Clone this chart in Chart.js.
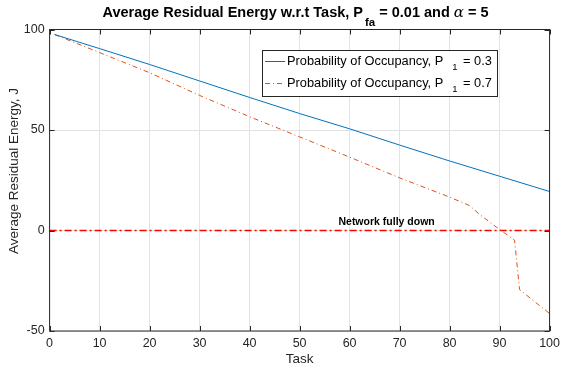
<!DOCTYPE html>
<html>
<head>
<meta charset="utf-8">
<script src="https://cdn.jsdelivr.net/npm/chart.js@4/dist/chart.umd.min.js"></script>
<style>
  html, body { margin: 0; padding: 0; background: #fff; }
  #caixa { width: 565px; height: 369px; }
</style>
</head>
<body>
<div id="caixa"><canvas id="grafico" width="565" height="369"></canvas></div>
<script>
// Dados
const tarefasP03 = [1, 10, 20, 30, 40, 50, 60, 70, 80, 90, 100];
const energiaP03 = [97.5, 90.5, 82.6, 74.4, 66.2, 58.2, 50.6, 42.5, 34.6, 27.0, 19.4];

const tarefasP07 = [1, 10, 20, 30, 40, 50, 60, 70, 80, 84, 86, 90, 93, 94, 100];
const energiaP07 = [97.5, 88.5, 78.5, 67.2, 56.6, 46.6, 36.5, 26.2, 16.6, 12.4, 8.0, 0.5, -4.8, -29.4, -41.3];

const tarefasLimite = [0, 100];
const energiaLimite = [0, 0];

const ticksX = [0, 10, 20, 30, 40, 50, 60, 70, 80, 90, 100];
const ticksY = [-50, 0, 50, 100];

const rotulos = ["Probability of Occupancy, P", "Probability of Occupancy, P"];
const valoresP = ["0.3", "0.7"];

const corTexto = "#262626";
const fonte = "'Liberation Sans', Arial, Helvetica, sans-serif";

function pares(xs, ys) {
  return xs.map((x, i) => ({ x: x, y: ys[i] }));
}

// texto com subscrito, desenhado em pedaços
function textoComIndice(ctx, partes, x, y, alinhar) {
  let total = 0;
  partes.forEach(p => { ctx.font = p.f; total += ctx.measureText(p.t).width + (p.dx || 0); });
  let cx = alinhar === "center" ? x - total / 2 : x;
  ctx.textAlign = "left";
  ctx.textBaseline = "alphabetic";
  partes.forEach(p => {
    ctx.font = p.f;
    cx += p.dx || 0;
    ctx.fillText(p.t, cx, y + (p.dy || 0));
    cx += ctx.measureText(p.t).width;
  });
}

const extras = {
  id: "extras",
  afterDraw(chart) {
    const ctx = chart.ctx;
    const a = chart.chartArea;
    const sx = chart.scales.x;
    const sy = chart.scales.y;
    ctx.save();

    // moldura e marcas para dentro
    ctx.strokeStyle = corTexto;
    ctx.lineWidth = 1;
    ctx.strokeRect(a.left, a.top, a.right - a.left, a.bottom - a.top);
    ctx.beginPath();
    ticksX.forEach(v => {
      const px = Math.round(sx.getPixelForValue(v)) + 0.5;
      ctx.moveTo(px, a.bottom); ctx.lineTo(px, a.bottom - 5);
      ctx.moveTo(px, a.top); ctx.lineTo(px, a.top + 5);
    });
    ticksY.forEach(v => {
      const py = Math.round(sy.getPixelForValue(v)) + 0.5;
      ctx.moveTo(a.left, py); ctx.lineTo(a.left + 5, py);
      ctx.moveTo(a.right, py); ctx.lineTo(a.right - 5, py);
    });
    ctx.stroke();

    // título
    ctx.fillStyle = "#000";
    const fb = "bold 14.5px " + fonte;
    textoComIndice(ctx, [
      { t: "Average Residual Energy w.r.t Task, P", f: fb },
      { t: "fa", f: "bold 11.5px " + fonte, dy: 9, dx: 2 },
      { t: " = 0.01 and ", f: fb },
      { t: "\u03B1", f: "italic 15px 'DejaVu Serif', serif" },
      { t: " = 5", f: fb }
    ], 295.5, 17, "center");

    // títulos dos eixos
    ctx.fillStyle = corTexto;
    ctx.font = "13.5px " + fonte;
    ctx.textAlign = "center";
    ctx.textBaseline = "middle";
    ctx.fillText("Task", (a.left + a.right) / 2, 359);
    ctx.save();
    ctx.translate(14, 171);
    ctx.rotate(-Math.PI / 2);
    ctx.fillText("Average Residual Energy, J", 0, 0);
    ctx.restore();

    // rótulo da linha limite
    ctx.fillStyle = "#000";
    ctx.font = "bold 10.5px " + fonte;
    ctx.textAlign = "center";
    ctx.textBaseline = "alphabetic";
    ctx.fillText("Network fully down", sx.getPixelForValue(67.4), sy.getPixelForValue(0) - 6);

    // legenda
    const lx = 262, ly = 50, lw = 235, lh = 46;
    ctx.fillStyle = "#fff";
    ctx.fillRect(lx, ly, lw, lh);
    ctx.strokeStyle = corTexto;
    ctx.lineWidth = 1;
    ctx.strokeRect(lx + 0.5, ly + 0.5, lw, lh);
    [0, 1].forEach(i => {
      const ds = chart.data.datasets[i];
      const yy = ly + 11 + i * 22;
      ctx.strokeStyle = ds.borderColor;
      ctx.lineWidth = ds.borderWidth;
      ctx.setLineDash(ds.borderDash || []);
      ctx.beginPath();
      ctx.moveTo(lx + 3, yy + 0.5);
      ctx.lineTo(lx + 23, yy + 0.5);
      ctx.stroke();
      ctx.setLineDash([]);
      ctx.fillStyle = "#000";
      const fl = "12.8px " + fonte;
      textoComIndice(ctx, [
        { t: rotulos[i], f: fl },
        { t: "1", f: "9.5px " + fonte, dy: 5, dx: 9 },
        { t: " = " + valoresP[i], f: fl, dx: 2 }
      ], lx + 25, yy + 4, "left");
    });

    ctx.restore();
  }
};

new Chart(document.getElementById("grafico").getContext("2d"), {
  type: "line",
  data: {
    datasets: [
      {
        label: "P1 = 0.3",
        data: pares(tarefasP03, energiaP03),
        borderColor: "#0072BD",
        borderWidth: 1,
        pointRadius: 0,
        tension: 0
      },
      {
        label: "P1 = 0.7",
        data: pares(tarefasP07, energiaP07),
        borderColor: "#D95319",
        borderWidth: 1,
        borderDash: [5, 3, 1, 3],
        pointRadius: 0,
        tension: 0
      },
      {
        label: "Network fully down",
        data: pares(tarefasLimite, energiaLimite),
        borderColor: "#FF0000",
        borderWidth: 1.5,
        borderDash: [7, 3, 2, 3],
        pointRadius: 0,
        tension: 0
      }
    ]
  },
  options: {
    responsive: false,
    animation: false,
    devicePixelRatio: 1,
    layout: { padding: { top: 29.5, right: 12.3, left: 0, bottom: 0 } },
    plugins: {
      legend: { display: false },
      tooltip: { enabled: false },
      title: { display: false }
    },
    scales: {
      x: {
        type: "linear",
        min: 0,
        max: 100,
        afterBuildTicks: s => { s.ticks = ticksX.map(v => ({ value: v })); },
        afterFit: s => { s.height = 38; },
        grid: { color: "#E3E3E3", drawTicks: false },
        border: { display: false },
        ticks: { color: corTexto, font: { family: fonte, size: 12.5 }, padding: 5, maxRotation: 0 }
      },
      y: {
        type: "linear",
        min: -50,
        max: 100,
        afterBuildTicks: s => { s.ticks = ticksY.map(v => ({ value: v })); },
        afterFit: s => { s.width = 49.6; },
        grid: { color: "#E3E3E3", drawTicks: false },
        border: { display: false },
        ticks: { color: corTexto, font: { family: fonte, size: 12.5 }, padding: 5 }
      }
    }
  },
  plugins: [extras]
});
</script>
</body>
</html>
